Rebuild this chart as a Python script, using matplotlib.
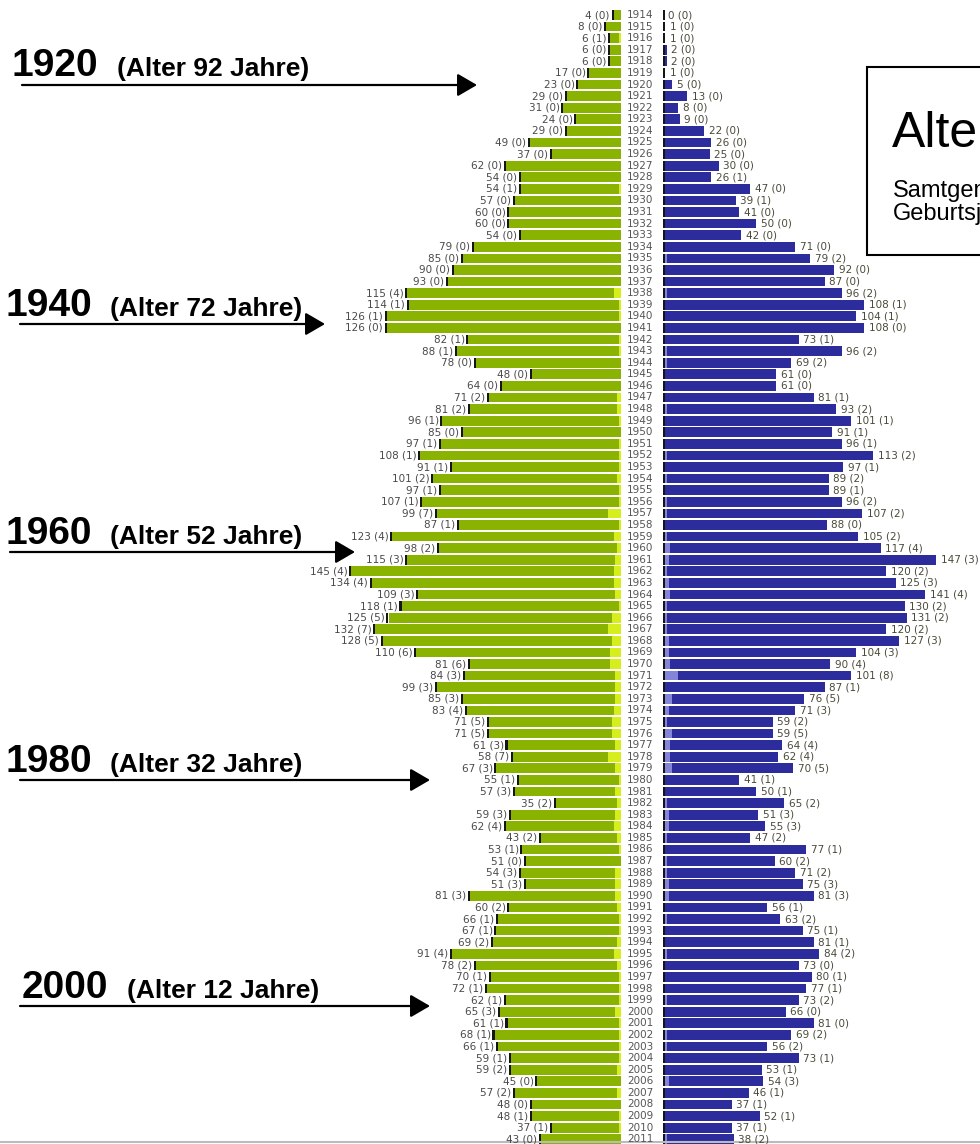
import matplotlib.pyplot as plt
from matplotlib.patches import Rectangle, FancyArrowPatch
import numpy as np

# Geburtsjahrgaenge 1914 - 2011
years = list(range(1914, 2012))

# linke Seite (gruen): Anzahl und Wert in Klammern
green = [4, 8, 6, 6, 6, 17, 23, 29, 31, 24, 29, 49, 37, 62, 54, 54, 57, 60, 60, 54,
         79, 85, 90, 93, 115, 114, 126, 126, 82, 88, 78, 48, 64, 71, 81, 96, 85, 97,
         108, 91, 101, 97, 107, 99, 87, 123, 98, 115, 145, 134, 109, 118, 125, 132,
         128, 110, 81, 84, 99, 85, 83, 71, 71, 61, 58, 67, 55, 57, 35, 59, 62, 43,
         53, 51, 54, 51, 81, 60, 66, 67, 69, 91, 78, 70, 72, 62, 65, 61, 68, 66, 59,
         59, 45, 57, 48, 48, 37, 43]
green_sub = [0, 0, 1, 0, 0, 0, 0, 0, 0, 0, 0, 0, 0, 0, 0, 1, 0, 0, 0, 0,
             0, 0, 0, 0, 4, 1, 1, 0, 1, 1, 0, 0, 0, 2, 2, 1, 0, 1,
             1, 1, 2, 1, 1, 7, 1, 4, 2, 3, 4, 4, 3, 1, 5, 7,
             5, 6, 6, 3, 3, 3, 4, 5, 5, 3, 7, 3, 1, 3, 2, 3, 4, 2,
             1, 0, 3, 3, 3, 2, 1, 1, 2, 4, 2, 1, 1, 1, 3, 1, 1, 1, 1,
             2, 0, 2, 0, 1, 1, 0]

# rechte Seite (blau)
blue = [0, 1, 1, 2, 2, 1, 5, 13, 8, 9, 22, 26, 25, 30, 26, 47, 39, 41, 50, 42,
        71, 79, 92, 87, 96, 108, 104, 108, 73, 96, 69, 61, 61, 81, 93, 101, 91, 96,
        113, 97, 89, 89, 96, 107, 88, 105, 117, 147, 120, 125, 141, 130, 131, 120,
        127, 104, 90, 101, 87, 76, 71, 59, 59, 64, 62, 70, 41, 50, 65, 51, 55, 47,
        77, 60, 71, 75, 81, 56, 63, 75, 81, 84, 73, 80, 77, 73, 66, 81, 69, 56, 73,
        53, 54, 46, 37, 52, 37, 38]
blue_sub = [0, 0, 0, 0, 0, 0, 0, 0, 0, 0, 0, 0, 0, 0, 1, 0, 1, 0, 0, 0,
            0, 2, 0, 0, 2, 1, 1, 0, 1, 2, 2, 0, 0, 1, 2, 1, 1, 1,
            2, 1, 2, 1, 2, 2, 0, 2, 4, 3, 2, 3, 4, 2, 2, 2,
            3, 3, 4, 8, 1, 5, 3, 2, 5, 4, 4, 5, 1, 1, 2, 3, 3, 2,
            1, 2, 2, 3, 3, 1, 2, 1, 1, 2, 0, 1, 1, 2, 0, 0, 2, 2, 1,
            1, 3, 1, 1, 1, 1, 2]

marked_years = [1920, 1940, 1960, 1980, 2000]
marked_ages = ["(Alter 92 Jahre)", "(Alter 72 Jahre)", "(Alter 52 Jahre)",
               "(Alter 32 Jahre)", "(Alter 12 Jahre)"]

W, H = 980, 1144
PX = 1.86        # Pixel pro Person
CX = 640         # Mitte (Jahreszahlen)
ROW0, ROW = 15, 11.59


def px2x(px):
    return (px - CX) / PX


def py2y(py):
    return years[0] + (py - ROW0) / ROW


fig = plt.figure(figsize=(W / 100, H / 100), dpi=100)
ax = fig.add_axes([0, 0, 1, 1])
ax.set_xlim(px2x(0), px2x(W))
ax.set_ylim(py2y(H), py2y(0))
ax.axis('off')

y = np.array(years)
g = np.array(green)
b = np.array(blue)
g_base = px2x(621)
b_base = px2x(663)
h = 0.84

# gruene Balken
ax.barh(y, -g, left=g_base, height=h, color='#8AB200', edgecolor='none')
ax.barh(y, -np.array(green_sub), left=g_base, height=h, color='#D6EE1C', edgecolor='none')
ax.barh(y, -1.1, left=g_base - g, height=h, color='#151515', edgecolor='none')

# blaue Balken
ax.barh(y, b, left=b_base, height=h, color='#2C2C9C', edgecolor='none')
ax.barh(y, np.array(blue_sub), left=b_base, height=h, color='#8484D8', edgecolor='none')
ax.barh(y, 1.1, left=b_base, height=h, color='#151515', edgecolor='none')

lab_font = dict(fontsize=7.5, family='DejaVu Sans', va='center')
for yr, gv, gs, bv, bs in zip(years, green, green_sub, blue, blue_sub):
    ax.text(g_base - gv - 2.0, yr, f"{gv} ({gs})", ha='right', color='#4a4a4a', **lab_font)
    ax.text(0, yr, str(yr), ha='center', color='#555555', **lab_font)
    ax.text(b_base + bv + 2.5, yr, f"{bv} ({bs})", ha='left', color='#4a4a3a', **lab_font)

ax.axhline(py2y(H - 2), color='#bbbbbb', lw=1.5)

# Markierungen links
text_x = [12, 5, 5, 5, 22]
text_base = [76, 316, 544, 772, 998]
arrow_start = [22, 20, 10, 20, 20]
arrow_tip = [477, 325, 355, 430, 430]
arrow_y = [85, 324, 552, 780, 1006]
for yr, age, tx, tb, a0, a1, ay in zip(marked_years, marked_ages, text_x, text_base,
                                       arrow_start, arrow_tip, arrow_y):
    fig.text(tx / W, 1 - tb / H, str(yr), fontsize=28, fontweight='bold',
             family='Liberation Sans', va='baseline', ha='left')
    fig.text((tx + 105) / W, 1 - tb / H, age, fontsize=19, fontweight='bold',
             family='Liberation Sans', va='baseline', ha='left')
    arr = FancyArrowPatch((a0 / W, 1 - ay / H), (a1 / W, 1 - ay / H),
                          transform=fig.transFigure, arrowstyle='-|>,head_length=1.2,head_width=0.7',
                          mutation_scale=10, lw=1.6, color='black', shrinkA=0, shrinkB=0)
    fig.add_artist(arr)

# Titelkasten (rechts abgeschnitten)
box = Rectangle((867 / W, 1 - 255 / H), 200 / W, 188 / H, transform=fig.transFigure,
                facecolor='white', edgecolor='black', lw=1.5)
fig.add_artist(box)
fig.text(892 / W, 1 - 147 / H, "Altersstruktur", fontsize=36, family='Liberation Sans',
         va='baseline', ha='left')
fig.text(893 / W, 1 - 197 / H, "Samtgemeinde", fontsize=17, family='Liberation Sans',
         va='baseline', ha='left')
fig.text(893 / W, 1 - 220 / H, "Geburtsjahrgänge", fontsize=17, family='Liberation Sans',
         va='baseline', ha='left')

fig.savefig('out.png', dpi=100)
